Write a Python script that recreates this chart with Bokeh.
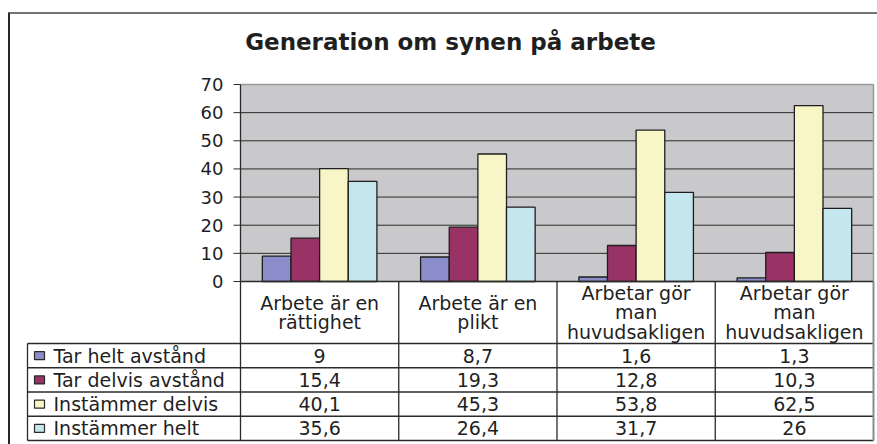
from bokeh.plotting import figure
from bokeh.models import Range1d
from bokeh.core.properties import value
from bokeh.embed import file_html
from bokeh.resources import INLINE

# ---------------- data ----------------
title_text = "Generation om synen på arbete"
categories = ["Arbete är en\nrättighet", "Arbete är en\nplikt",
              "Arbetar gör\nman\nhuvudsakligen", "Arbetar gör\nman\nhuvudsakligen"]
series_names = ["Tar helt avstånd", "Tar delvis avstånd", "Instämmer delvis", "Instämmer helt"]
tar_helt_avstand = [9, 8.7, 1.6, 1.3]
tar_delvis_avstand = [15.4, 19.3, 12.8, 10.3]
instammer_delvis = [40.1, 45.3, 53.8, 62.5]
instammer_helt = [35.6, 26.4, 31.7, 26]
y_ticks = [0, 10, 20, 30, 40, 50, 60, 70]

series_values = [tar_helt_avstand, tar_delvis_avstand, instammer_delvis, instammer_helt]
series_colors = ["#8A8DC9", "#993366", "#F8F6C6", "#C4E6EC"]

# ---------------- layout (page pixels) ----------------
W, H = 877, 444
FIG_L, FIG_T = 0, 0
PLOT_L, PLOT_R = 240, 873
PLOT_T, PLOT_B = 84, 281
HDR_B = 343
ROW_H = 24.25
LEG_L = 27
YMAX = y_ticks[-1]
n = len(categories)
cw = (PLOT_R - PLOT_L) / n
ppu = (PLOT_B - PLOT_T) / YMAX

FONT = value("DejaVu Sans")
TXT = "#1f1f1f"
LINE = "#2a2a2a"

p = figure(width=W, height=H,
           x_range=Range1d((FIG_L - PLOT_L) / cw, (FIG_L + W - PLOT_L) / cw),
           y_range=Range1d(-(FIG_T + H - PLOT_B) / ppu, (PLOT_B - FIG_T) / ppu),
           x_axis_type=None, y_axis_type=None, toolbar_location=None,
           output_backend="svg", min_border=0, outline_line_color=None,
           background_fill_color="white", border_fill_color="white")
p.extra_x_ranges = {"px": Range1d(FIG_L, FIG_L + W)}
p.extra_y_ranges = {"px": Range1d(FIG_T + H, FIG_T)}
PX = dict(x_range_name="px", y_range_name="px")

# outer chart border
p.segment(x0=[8.5], y0=[12], x1=[8.5], y1=[FIG_T + H], line_color="#262626", line_width=2, **PX)
p.segment(x0=[8], y0=[12.5], x1=[FIG_L + W], y1=[12.5], line_color="#444444", line_width=1.6, **PX)

# title
p.text(x=[450], y=[41], text=[title_text], text_font=FONT, text_font_style="bold",
       text_font_size="23px", text_color=TXT, text_align="center", text_baseline="middle", **PX)

# plot area background
p.quad(left=[0], right=[n], bottom=[0], top=[YMAX], fill_color="#C9C9CB", line_color=None)
# gridlines
grid = [t for t in y_ticks if 0 < t < YMAX]
p.segment(x0=[0] * len(grid), x1=[n] * len(grid), y0=grid, y1=grid, line_color=LINE, line_width=1)
p.segment(x0=[0, n], x1=[n, n], y0=[YMAX, 0], y1=[YMAX, YMAX], line_color="#9a9a9a", line_width=1.5)

# bars
bw = 0.181
for j, (vals, col) in enumerate(zip(series_values, series_colors)):
    xs = [i + 0.5 + (j - 1.5) * bw for i in range(n)]
    p.vbar(x=xs, top=vals, bottom=0, width=bw, fill_color=col, line_color="#1e1e1e", line_width=1.3)

# axis lines and ticks
p.segment(x0=[0], x1=[n], y0=[0], y1=[0], line_color=LINE, line_width=1.5)
p.segment(x0=[0], x1=[0], y0=[0], y1=[YMAX], line_color=LINE, line_width=1.3)
p.segment(x0=[PLOT_L - 7] * len(y_ticks), x1=[PLOT_L] * len(y_ticks), y0=y_ticks, y1=y_ticks,
          line_color=LINE, line_width=1, x_range_name="px")
p.text(x=[PLOT_L - 17] * len(y_ticks), y=y_ticks, text=[str(t) for t in y_ticks],
       text_font=FONT, text_font_size="18px", text_color=TXT, text_align="right",
       text_baseline="middle", x_range_name="px")

# data table
rows_top = [HDR_B + k * ROW_H for k in range(len(series_names) + 1)]
p.segment(x0=[LEG_L] * len(rows_top), x1=[PLOT_R] * len(rows_top), y0=rows_top, y1=rows_top,
          line_color=LINE, line_width=1.3, **PX)
p.segment(x0=[LEG_L], x1=[LEG_L], y0=[HDR_B], y1=[rows_top[-1]], line_color=LINE, line_width=1.3, **PX)
p.segment(x0=list(range(n)), x1=list(range(n)), y0=[PLOT_B] * n, y1=[rows_top[-1]] * n,
          line_color=LINE, line_width=1.3, y_range_name="px")
p.segment(x0=[n], x1=[n], y0=[PLOT_B], y1=[rows_top[-1]], line_color="#8a8a8a", line_width=2,
          y_range_name="px")

# header labels (categories)
p.text(x=[i + 0.5 for i in range(n)], y=[(PLOT_B + HDR_B) / 2] * n, text=categories,
       text_font=FONT, text_font_size="19px", text_color=TXT, text_align="center",
       text_baseline="middle", text_line_height=0.9, y_range_name="px")

row_mid = [rows_top[k] + ROW_H / 2 for k in range(len(series_names))]
# legend keys + names
p.rect(x=[39] * len(series_names), y=row_mid, width=10, height=8, fill_color=series_colors,
       line_color="#2a2a2a", line_width=1.2, **PX)
p.text(x=[53] * len(series_names), y=row_mid, text=series_names, text_font=FONT,
       text_font_size="19px", text_color=TXT, text_align="left", text_baseline="middle", **PX)


def fmt(v):
    return f"{v:g}".replace(".", ",")


for k, vals in enumerate(series_values):
    p.text(x=[i + 0.5 for i in range(n)], y=[row_mid[k]] * n, text=[fmt(v) for v in vals],
           text_font=FONT, text_font_size="19px", text_color=TXT, text_align="center",
           text_baseline="middle", y_range_name="px")

open("out.html", "w").write(file_html(p, INLINE))
